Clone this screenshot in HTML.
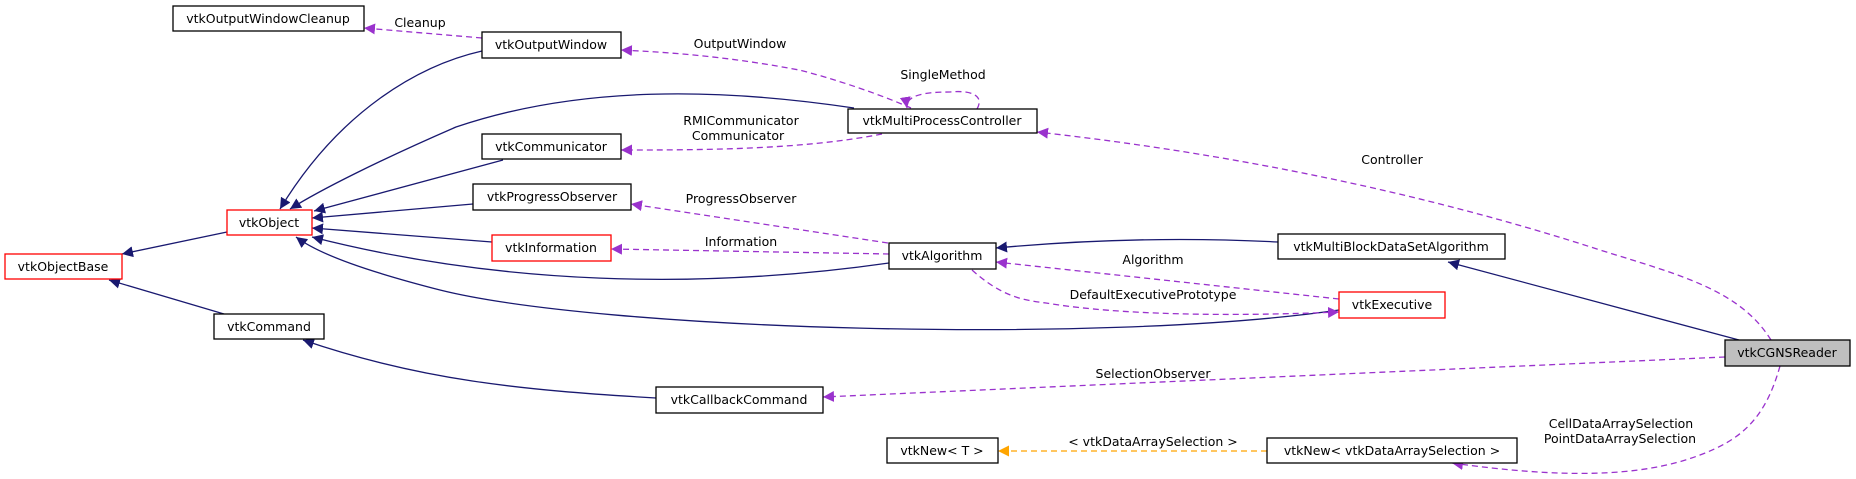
<!DOCTYPE html>
<html><head><meta charset="utf-8"><style>
html,body{margin:0;padding:0;background:#fff}
svg{display:block}
text{font-family:"DejaVu Sans","Liberation Sans",sans-serif;font-size:12.5px;fill:#000}
</style></head><body>
<svg width="1856" height="479" viewBox="0 0 1856 479" xmlns="http://www.w3.org/2000/svg">
<defs>
<marker id="n" viewBox="0 0 10 10" refX="10" refY="5" markerWidth="11" markerHeight="11" markerUnits="userSpaceOnUse" orient="auto"><path d="M0,0L10,5L0,10z" fill="#191970"/></marker>
<marker id="p" viewBox="0 0 10 10" refX="10" refY="5" markerWidth="11" markerHeight="11" markerUnits="userSpaceOnUse" orient="auto"><path d="M0,0L10,5L0,10z" fill="#9a32cd"/></marker>
<marker id="o" viewBox="0 0 10 10" refX="10" refY="5" markerWidth="11" markerHeight="11" markerUnits="userSpaceOnUse" orient="auto"><path d="M0,0L10,5L0,10z" fill="#ffa500"/></marker>
</defs>
<g fill="none" stroke="#191970" stroke-width="1.3" marker-end="url(#n)">
<path d="M482,51 C420,65 340,110 280,209"/>
<path d="M854,108 C720,88 580,85 456,127 C380,160 320,190 290,209"/>
<path d="M503,160 L314,211"/>
<path d="M473,204 L312,218"/>
<path d="M492,242 L312,228"/>
<path d="M889,263 C700,290 500,285 312,237"/>
<path d="M1339,310 C1100,345 600,330 440,290 C370,272 320,255 296,237"/>
<path d="M227,232 L122,254"/>
<path d="M224,314 L109,280"/>
<path d="M656,398 C520,390 420,380 303,340"/>
<path d="M1278,242 C1200,238 1105,238 996,248"/>
<path d="M1739,340 L1448,262"/>
</g>
<g fill="none" stroke="#9a32cd" stroke-width="1.3" stroke-dasharray="6,4" marker-end="url(#p)">
<path d="M482,38 L364,28"/>
<path d="M911,108 C870,90 820,75 799,70 C720,55 660,52 621,50"/>
<path d="M977,109 C985,95 970,90 950,92 C925,92 905,95 907,108"/>
<path d="M882,134 C800,150 700,150 621,150"/>
<path d="M1771,340 C1740,290 1680,275 1600,250 C1400,185 1200,150 1037,132"/>
<path d="M888,243 L631,204"/>
<path d="M889,254 L611,249"/>
<path d="M1339,299 L996,262"/>
<path d="M972,270 C1000,295 1020,300 1046,303 C1100,312 1194,318 1339,312"/>
<path d="M1725,357 L823,397"/>
<path d="M1780,366 C1765,420 1740,440 1700,455 C1640,478 1560,478 1452,463"/>
</g>
<path d="M1267,451 L998,451" fill="none" stroke="#ffa500" stroke-width="1.3" stroke-dasharray="6,4" marker-end="url(#o)"/>
<g stroke-width="1.3">
<rect x="173" y="6" width="191" height="25" fill="#fff" stroke="#000"/>
<rect x="482" y="32" width="139" height="26" fill="#fff" stroke="#000"/>
<rect x="848" y="109" width="189" height="24" fill="#fff" stroke="#000"/>
<rect x="482" y="134" width="139" height="25" fill="#fff" stroke="#000"/>
<rect x="473" y="184" width="158" height="26" fill="#fff" stroke="#000"/>
<rect x="227" y="210" width="85" height="25" fill="#fff" stroke="#f00"/>
<rect x="492" y="235" width="119" height="26" fill="#fff" stroke="#f00"/>
<rect x="889" y="243" width="107" height="26" fill="#fff" stroke="#000"/>
<rect x="5" y="254" width="117" height="25" fill="#fff" stroke="#f00"/>
<rect x="214" y="314" width="110" height="25" fill="#fff" stroke="#000"/>
<rect x="656" y="387" width="167" height="26" fill="#fff" stroke="#000"/>
<rect x="887" y="438" width="111" height="25" fill="#fff" stroke="#000"/>
<rect x="1278" y="234" width="227" height="25" fill="#fff" stroke="#000"/>
<rect x="1339" y="292" width="106" height="26" fill="#fff" stroke="#f00"/>
<rect x="1725" y="340" width="125" height="26" fill="#bfbfbf" stroke="#000"/>
<rect x="1267" y="438" width="250" height="25" fill="#fff" stroke="#000"/>
</g>
<g text-anchor="middle">
<text x="268" y="23">vtkOutputWindowCleanup</text>
<text x="551" y="49">vtkOutputWindow</text>
<text x="942" y="125">vtkMultiProcessController</text>
<text x="551" y="151">vtkCommunicator</text>
<text x="552" y="201">vtkProgressObserver</text>
<text x="269" y="227">vtkObject</text>
<text x="551" y="252">vtkInformation</text>
<text x="942" y="260">vtkAlgorithm</text>
<text x="63" y="271">vtkObjectBase</text>
<text x="269" y="331">vtkCommand</text>
<text x="739" y="404">vtkCallbackCommand</text>
<text x="942" y="455">vtkNew&lt; T &gt;</text>
<text x="1391" y="251">vtkMultiBlockDataSetAlgorithm</text>
<text x="1392" y="309">vtkExecutive</text>
<text x="1787" y="357">vtkCGNSReader</text>
<text x="1392" y="455">vtkNew&lt; vtkDataArraySelection &gt;</text>
<text x="420" y="27">Cleanup</text>
<text x="740" y="48">OutputWindow</text>
<text x="943" y="79">SingleMethod</text>
<text x="741" y="125">RMICommunicator</text>
<text x="738" y="140">Communicator</text>
<text x="1392" y="164">Controller</text>
<text x="741" y="203">ProgressObserver</text>
<text x="741" y="246">Information</text>
<text x="1153" y="264">Algorithm</text>
<text x="1153" y="299">DefaultExecutivePrototype</text>
<text x="1153" y="378">SelectionObserver</text>
<text x="1153" y="446">&lt; vtkDataArraySelection &gt;</text>
<text x="1621" y="428">CellDataArraySelection</text>
<text x="1620" y="443">PointDataArraySelection</text>
</g>
</svg>
</body></html>
